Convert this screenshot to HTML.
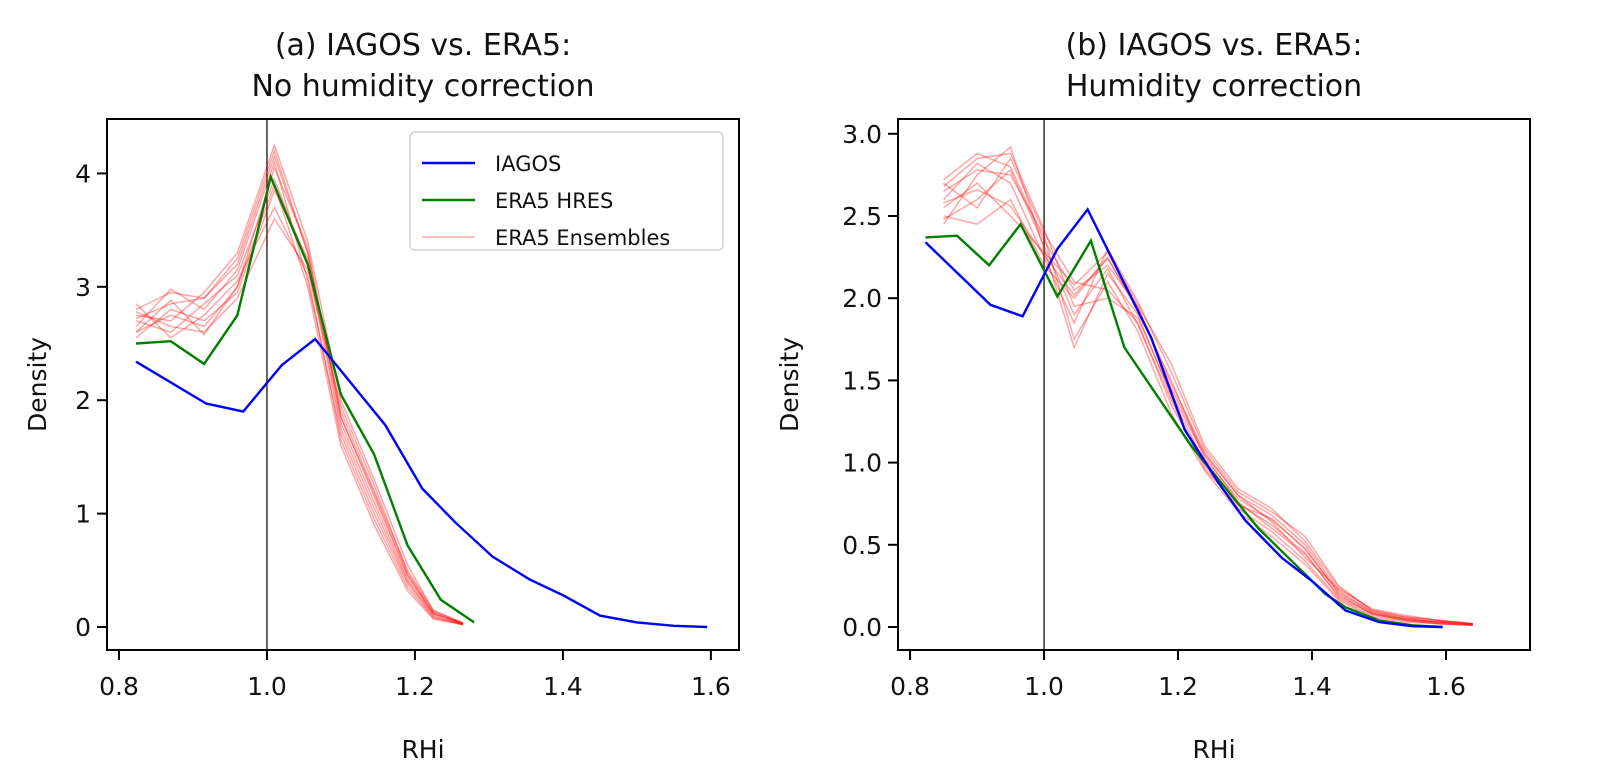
<!DOCTYPE html>
<html><head><meta charset="utf-8">
<style>
html,body{margin:0;padding:0;background:#fff;}
svg{display:block;font-family:"DejaVu Sans","Liberation Sans",sans-serif;}
</style></head>
<body>
<svg id="chart" width="1600" height="773" viewBox="0 0 1600 773" xmlns="http://www.w3.org/2000/svg"></svg>
<script>
// ---------- DATA ----------
const xTicks = [0.8, 1.0, 1.2, 1.4, 1.6];
const xTickLabels = ["0.8", "1.0", "1.2", "1.4", "1.6"];
const yTicksA = [0, 1, 2, 3, 4];
const yTickLabelsA = ["0", "1", "2", "3", "4"];
const yTicksB = [0, 0.5, 1.0, 1.5, 2.0, 2.5, 3.0];
const yTickLabelsB = ["0.0", "0.5", "1.0", "1.5", "2.0", "2.5", "3.0"];

const iagosAX = [0.823, 0.918, 0.968, 1.02, 1.065, 1.16, 1.21, 1.255, 1.305, 1.355, 1.40, 1.45, 1.50, 1.55, 1.595];
const iagosAY = [2.34, 1.97, 1.90, 2.31, 2.54, 1.78, 1.22, 0.92, 0.62, 0.42, 0.28, 0.10, 0.04, 0.01, 0.0];
const hresAX = [0.823, 0.87, 0.915, 0.96, 1.005, 1.055, 1.10, 1.145, 1.19, 1.235, 1.28];
const hresAY = [2.50, 2.52, 2.32, 2.75, 3.97, 3.20, 2.05, 1.52, 0.72, 0.24, 0.04];
const ensAX = [0.823, 0.87, 0.915, 0.96, 1.01, 1.055, 1.10, 1.145, 1.19, 1.225, 1.265];
const ensA1 = [2.80, 2.95, 2.90, 3.20, 4.15, 3.30, 1.90, 1.20, 0.50, 0.15, 0.03];
const ensA2 = [2.70, 2.60, 2.85, 3.10, 3.95, 3.20, 1.75, 1.05, 0.40, 0.10, 0.02];
const ensA3 = [2.60, 2.88, 2.58, 3.00, 4.05, 3.35, 1.85, 1.15, 0.45, 0.12, 0.03];
const ensA4 = [2.75, 2.70, 2.95, 3.30, 4.25, 3.40, 2.00, 1.30, 0.55, 0.14, 0.04];
const ensA5 = [2.85, 2.55, 2.75, 3.05, 3.70, 3.10, 1.65, 0.95, 0.35, 0.08, 0.02];
const ensA6 = [2.55, 2.80, 2.70, 2.95, 3.85, 3.25, 1.80, 1.10, 0.42, 0.11, 0.03];
const ensA7 = [2.65, 2.98, 2.80, 3.15, 4.10, 3.05, 1.70, 1.00, 0.38, 0.09, 0.02];
const ensA8 = [2.78, 2.65, 2.60, 2.90, 3.60, 3.15, 1.95, 1.25, 0.48, 0.13, 0.03];
const ensA9 = [2.72, 2.85, 2.90, 3.25, 4.20, 3.30, 1.85, 1.18, 0.46, 0.12, 0.03];
const ensA10 = [2.60, 2.75, 2.65, 3.00, 3.90, 3.00, 1.60, 0.90, 0.32, 0.07, 0.02];
const ensASeries = [ensA1, ensA2, ensA3, ensA4, ensA5, ensA6, ensA7, ensA8, ensA9, ensA10];

const iagosBX = [0.823, 0.92, 0.968, 1.02, 1.065, 1.16, 1.21, 1.26, 1.30, 1.355, 1.40, 1.45, 1.50, 1.55, 1.595];
const iagosBY = [2.34, 1.96, 1.89, 2.30, 2.54, 1.76, 1.20, 0.88, 0.65, 0.42, 0.28, 0.10, 0.03, 0.005, 0.0];
const hresBX = [0.823, 0.87, 0.918, 0.965, 1.02, 1.07, 1.12, 1.17, 1.22, 1.27, 1.32, 1.37, 1.42, 1.45, 1.50, 1.55, 1.595];
const hresBY = [2.37, 2.38, 2.20, 2.45, 2.01, 2.35, 1.70, 1.40, 1.10, 0.85, 0.60, 0.40, 0.20, 0.12, 0.04, 0.01, 0.0];
const ensBX = [0.85, 0.90, 0.95, 1.00, 1.045, 1.095, 1.14, 1.19, 1.24, 1.29, 1.34, 1.39, 1.44, 1.49, 1.54, 1.59, 1.64];
const ensB1 = [2.72, 2.88, 2.80, 2.35, 2.05, 2.20, 1.95, 1.45, 1.05, 0.80, 0.68, 0.50, 0.22, 0.09, 0.05, 0.03, 0.015];
const ensB2 = [2.45, 2.75, 2.92, 2.30, 1.70, 2.15, 1.90, 1.40, 1.00, 0.75, 0.62, 0.45, 0.18, 0.08, 0.04, 0.02, 0.01];
const ensB3 = [2.60, 2.82, 2.70, 2.25, 1.85, 2.30, 1.98, 1.55, 1.08, 0.82, 0.70, 0.55, 0.25, 0.10, 0.06, 0.04, 0.02];
const ensB4 = [2.70, 2.55, 2.85, 2.40, 2.10, 2.05, 1.85, 1.35, 0.98, 0.72, 0.58, 0.40, 0.17, 0.07, 0.04, 0.02, 0.01];
const ensB5 = [2.50, 2.45, 2.60, 2.20, 2.00, 2.25, 1.92, 1.50, 1.02, 0.78, 0.65, 0.48, 0.20, 0.08, 0.05, 0.03, 0.02];
const ensB6 = [2.65, 2.78, 2.75, 2.38, 1.75, 2.10, 1.80, 1.30, 0.95, 0.70, 0.55, 0.38, 0.16, 0.06, 0.03, 0.02, 0.01];
const ensB7 = [2.55, 2.70, 2.50, 2.28, 2.08, 2.28, 1.96, 1.60, 1.10, 0.84, 0.72, 0.52, 0.24, 0.10, 0.06, 0.04, 0.02];
const ensB8 = [2.68, 2.85, 2.88, 2.42, 1.95, 2.00, 1.88, 1.42, 1.04, 0.76, 0.60, 0.44, 0.19, 0.08, 0.04, 0.03, 0.01];
const ensB9 = [2.48, 2.60, 2.78, 2.32, 1.90, 2.18, 1.84, 1.38, 0.96, 0.74, 0.66, 0.47, 0.21, 0.09, 0.05, 0.03, 0.02];
const ensB10 = [2.58, 2.66, 2.56, 2.26, 2.02, 2.24, 1.94, 1.48, 1.06, 0.80, 0.64, 0.42, 0.23, 0.11, 0.07, 0.04, 0.02];
const ensBSeries = [ensB1, ensB2, ensB3, ensB4, ensB5, ensB6, ensB7, ensB8, ensB9, ensB10];

// ---------- DRAW ----------
const NS = "http://www.w3.org/2000/svg";
const svg = document.getElementById("chart");
function mk(tag, attrs, parent) {
  const e = document.createElementNS(NS, tag);
  for (const k in attrs) e.setAttribute(k, attrs[k]);
  (parent || svg).appendChild(e);
  return e;
}

function panel(cfg) {
  const g = mk("g", {});
  
  
  const sx = v => cfg.x0 + (v - cfg.xmin) / (cfg.xmax - cfg.xmin) * (cfg.x1 - cfg.x0);
  const sy = v => cfg.y1 - (v - cfg.ymin) / (cfg.ymax - cfg.ymin) * (cfg.y1 - cfg.y0);
  const clip = mk("clipPath", {id: cfg.name + "-clip"}, g);
  mk("rect", {x: cfg.x0, y: cfg.y0, width: cfg.x1 - cfg.x0, height: cfg.y1 - cfg.y0}, clip);
  const plot = mk("g", {"clip-path": "url(#" + cfg.name + "-clip)"}, g);
  
  

  const vl = mk("line", {x1: sx(1.0), x2: sx(1.0), y1: cfg.y0, y2: cfg.y1, stroke: "#000", "stroke-width": 1.2}, plot);
  
  

  const pts = (xs, ys) => xs.map((x, i) => sx(x).toFixed(1) + "," + sy(ys[i]).toFixed(1)).join(" ");
  cfg.ens.forEach((s, i) => {
    const p = mk("polyline", {points: pts(cfg.ensX, s), fill: "none", stroke: "#ff0000", "stroke-opacity": 0.35, "stroke-width": 1.5}, plot);
    
    
  });
  const h = mk("polyline", {points: pts(cfg.hresX, cfg.hresY), fill: "none", stroke: "#008000", "stroke-width": 2.4}, plot);
  
  
  const b = mk("polyline", {points: pts(cfg.iagX, cfg.iagY), fill: "none", stroke: "#0000ff", "stroke-width": 2.4}, plot);
  
  

  const fr = mk("rect", {x: cfg.x0, y: cfg.y0, width: cfg.x1 - cfg.x0, height: cfg.y1 - cfg.y0, fill: "none", stroke: "#000", "stroke-width": 2}, g);
  
  

  xTicks.forEach((t, i) => {
    const X = sx(t);
    const tk = mk("line", {x1: X, x2: X, y1: cfg.y1, y2: cfg.y1 + 10, stroke: "#000", "stroke-width": 2}, g);
    
    
    const tl = mk("text", {x: X, y: cfg.y1 + 45, "font-size": 25, "text-anchor": "middle", fill: "#111"}, g);
    tl.textContent = xTickLabels[i];
    
    
  });
  cfg.yTicks.forEach((t, i) => {
    const Y = sy(t);
    const tk = mk("line", {x1: cfg.x0 - 10, x2: cfg.x0, y1: Y, y2: Y, stroke: "#000", "stroke-width": 2}, g);
    
    
    const tl = mk("text", {x: cfg.x0 - 16, y: Y + 9, "font-size": 25, "text-anchor": "end", fill: "#111"}, g);
    tl.textContent = cfg.yLabels[i];
    
    
  });
  const xt = mk("text", {x: (cfg.x0 + cfg.x1) / 2, y: 758, "font-size": 25, "text-anchor": "middle", fill: "#111"}, g);
  xt.textContent = "RHi";
  
  
  const yt = mk("text", {x: 0, y: 0, "font-size": 25, "text-anchor": "middle", fill: "#111", transform: "translate(" + cfg.yTitleX + "," + ((cfg.y0 + cfg.y1) / 2) + ") rotate(-90)"}, g);
  yt.textContent = "Density";
  
  
  cfg.title.forEach((line, i) => {
    const tt = mk("text", {x: (cfg.x0 + cfg.x1) / 2, y: 55 + i * 41, "font-size": 30, "text-anchor": "middle", fill: "#111"}, g);
    tt.textContent = line;
    
    
  });
  return g;
}

panel({name: "panel-a", x0: 107, x1: 739, y0: 119, y1: 650, xmin: 0.7838, xmax: 1.638, ymin: -0.203, ymax: 4.48,
  yTicks: yTicksA, yLabels: yTickLabelsA, yTitleX: 46,
  iagX: iagosAX, iagY: iagosAY, hresX: hresAX, hresY: hresAY, ensX: ensAX, ens: ensASeries,
  title: ["(a) IAGOS vs. ERA5:", "No humidity correction"]});
panel({name: "panel-b", x0: 898, x1: 1530, y0: 119, y1: 650, xmin: 0.782, xmax: 1.7254, ymin: -0.14, ymax: 3.09,
  yTicks: yTicksB, yLabels: yTickLabelsB, yTitleX: 798,
  iagX: iagosBX, iagY: iagosBY, hresX: hresBX, hresY: hresBY, ensX: ensBX, ens: ensBSeries,
  title: ["(b) IAGOS vs. ERA5:", "Humidity correction"]});

const lg = mk("g", {});


mk("rect", {x: 410, y: 132, width: 313, height: 118, rx: 5, fill: "#fff", "fill-opacity": 0.8, stroke: "#d0d0d0", "stroke-width": 1.5}, lg);
const legItems = [["IAGOS", "#0000ff", 1, 2.4], ["ERA5 HRES", "#008000", 1, 2.4], ["ERA5 Ensembles", "#ff0000", 0.35, 1.5]];
legItems.forEach((it, i) => {
  const Y = 163 + i * 37;
  const e = mk("g", {}, lg);
  
  
  mk("line", {x1: 422, x2: 475, y1: Y, y2: Y, stroke: it[1], "stroke-opacity": it[2], "stroke-width": it[3]}, e);
  const t = mk("text", {x: 495, y: Y + 8, "font-size": 21, fill: "#111"}, e);
  t.textContent = it[0];
});
</script>
</body></html>
